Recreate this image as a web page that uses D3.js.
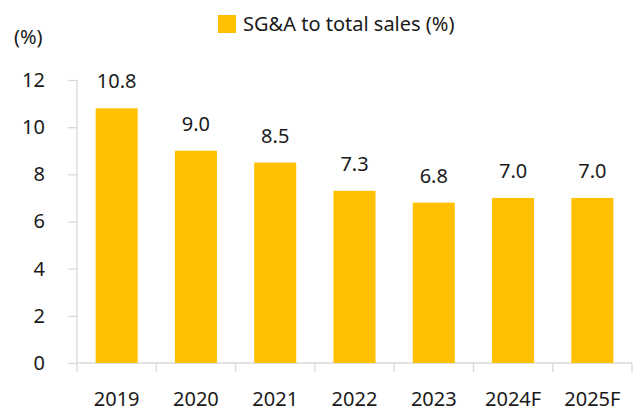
<!DOCTYPE html>
<html>
<head>
<meta charset="utf-8">
<script src="https://cdn.jsdelivr.net/npm/d3@7"></script>
<style>
  body { margin: 0; background: #fff; }
  text { font-family: "Noto Sans", sans-serif; fill: #1a1a1a; }
</style>
</head>
<body>
<script>
// chart data
var years = ["2019", "2020", "2021", "2022", "2023", "2024F", "2025F"];
var sgaRatio = [10.8, 9.0, 8.5, 7.3, 6.8, 7.0, 7.0];
var yTicks = [0, 2, 4, 6, 8, 10, 12];
var seriesName = "SG&A to total sales (%)";

var width = 638, height = 412;
var margin = {left: 77, right: 6, top: 80, bottom: 49};
var fs = "20px";

var svg = d3.select("body").append("svg").attr("width", width).attr("height", height);

var x = d3.scaleBand()
    .domain(years)
    .range([margin.left, width - margin.right])
    .paddingInner(0.47)
    .paddingOuter(0.235);

var y = d3.scaleLinear()
    .domain([0, 12])
    .range([height - margin.bottom, margin.top]);

// y axis
var yAxis = svg.append("g")
    .attr("transform", "translate(" + margin.left + ",0)")
    .call(d3.axisLeft(y).tickValues(yTicks).tickSize(9).tickPadding(23).tickFormat(d3.format("d")));
yAxis.selectAll("line, path").attr("stroke", "#d9d9d9").attr("stroke-width", 1.3);
yAxis.select(".domain").attr("d", "M0," + y(12) + "V" + y(0));
yAxis.selectAll("text").style("font-size", fs).attr("fill", "#1a1a1a");

// x axis: ticks at band boundaries
var xAxisG = svg.append("g").attr("transform", "translate(0," + y(0) + ")");
xAxisG.append("line")
    .attr("x1", margin.left).attr("x2", width - margin.right)
    .attr("stroke", "#d9d9d9").attr("stroke-width", 1.3);
var bounds = d3.range(years.length + 1).map(function(i){ return margin.left + i * (width - margin.right - margin.left) / years.length; });
xAxisG.selectAll(".bnd").data(bounds).enter().append("line")
    .attr("x1", d => d).attr("x2", d => d)
    .attr("y1", 0).attr("y2", 9)
    .attr("stroke", "#d9d9d9").attr("stroke-width", 1.3);
xAxisG.selectAll(".yl").data(years).enter().append("text")
    .attr("x", d => x(d) + x.bandwidth() / 2)
    .attr("y", 43)
    .attr("text-anchor", "middle")
    .style("font-size", fs)
    .text(d => d);

// bars
svg.selectAll(".bar").data(sgaRatio).enter().append("rect")
    .attr("class", "bar")
    .attr("x", (d, i) => x(years[i]))
    .attr("width", x.bandwidth())
    .attr("y", d => y(d))
    .attr("height", d => y(0) - y(d))
    .attr("fill", "#FFC000");

// value labels
svg.selectAll(".val").data(sgaRatio).enter().append("text")
    .attr("x", (d, i) => x(years[i]) + x.bandwidth() / 2)
    .attr("y", d => y(d) - 20)
    .attr("text-anchor", "middle")
    .style("font-size", fs)
    .text(d => d3.format(".1f")(d));

// unit label
svg.append("text").attr("x", 14).attr("y", 44).style("font-size", fs).text("(%)");

// legend
svg.append("rect").attr("x", 218).attr("y", 15).attr("width", 18).attr("height", 18).attr("fill", "#FFC000");
svg.append("text").attr("x", 243).attr("y", 31).style("font-size", fs).text(seriesName);
</script>
</body>
</html>
